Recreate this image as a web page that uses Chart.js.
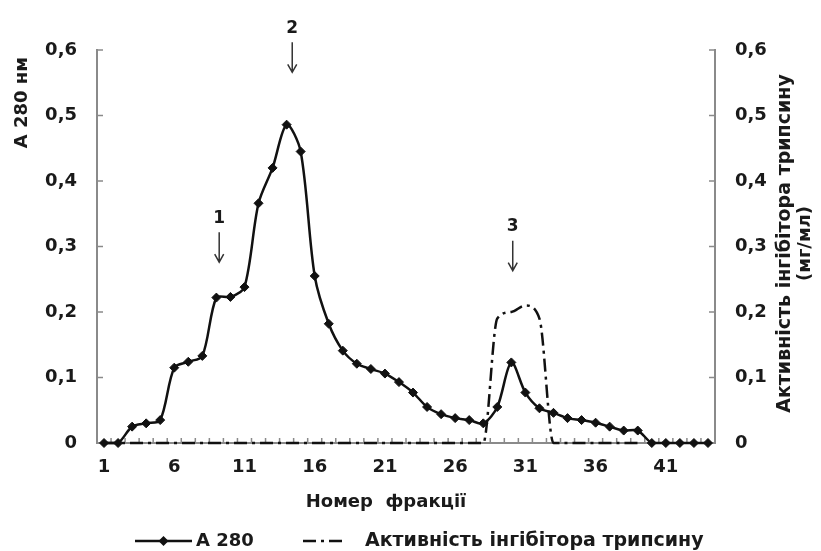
<!DOCTYPE html>
<html>
<head>
<meta charset="utf-8">
<script src="https://cdn.jsdelivr.net/npm/chart.js@4.4.1/dist/chart.umd.min.js"></script>
<style>
  html, body { margin: 0; padding: 0; background: #fff; }
</style>
</head>
<body>
<canvas id="chart" width="821" height="551"></canvas>
<script>
// fraction numbers on the x axis
const fractionLabels = ['1','2','3','4','5','6','7','8','9','10','11','12','13','14','15',
  '16','17','18','19','20','21','22','23','24','25','26','27','28','29','30',
  '31','32','33','34','35','36','37','38','39','40','41','42','43','44'];

// A 280 (left axis)
const a280 = [0, 0, 0.025, 0.030, 0.035, 0.115, 0.124, 0.133, 0.222, 0.223,
  0.238, 0.366, 0.420, 0.486, 0.445, 0.255, 0.182, 0.141, 0.121, 0.113,
  0.106, 0.093, 0.077, 0.055, 0.044, 0.038, 0.035, 0.030, 0.055, 0.123,
  0.077, 0.053, 0.046, 0.038, 0.035, 0.031, 0.025, 0.019, 0.019, 0,
  0, 0, 0, 0];

// trypsin inhibitor activity, mg/ml (right axis)
const inhibitor = [0, 0, 0, 0, 0, 0, 0, 0, 0, 0,
  0, 0, 0, 0, 0, 0, 0, 0, 0, 0,
  0, 0, 0, 0, 0, 0, 0, 0, 0.19, 0.20,
  0.21, 0.19, 0, 0, 0, 0, 0, 0, 0, null,
  null, null, null, null];

const yTickLabels = ['0', '0,1', '0,2', '0,3', '0,4', '0,5', '0,6'];

// numbered arrows over the peaks: fraction and value at the arrow tip
const markerLabels = ['1', '2', '3'];
const markerFraction = [9.2, 14.4, 30.1];
const markerTip = [0.276, 0.566, 0.263];

const seriesNames = ['А 280', 'Активність інгібітора трипсину'];
const xTitle = 'Номер  фракції';
const yTitle = 'А 280 нм';
const y1Title = ['Активність інгібітора трипсину', '(мг/мл)'];

const FONT = 'DejaVu Sans';
const INK = '#111';
const TEXT = '#1a1a1a';
const AXIS = '#8a8a8a';
const DASHDOT = [13, 5, 3, 5];

const tickFont = { family: FONT, size: 18, weight: 'bold' };

const extras = {
  id: 'extras',
  beforeDatasetsDraw(chart) {
    const { ctx, chartArea: a, scales: { x, y, y1 } } = chart;
    ctx.save();
    ctx.strokeStyle = AXIS;
    ctx.lineWidth = 1.5;
    ctx.beginPath();
    // Excel style tick marks pointing inside
    for (let i = 0; i <= fractionLabels.length; i++) {
      const px = x.getPixelForValue(i - 0.5);
      ctx.moveTo(px, a.bottom);
      ctx.lineTo(px, a.bottom - 5);
    }
    y.ticks.forEach(t => {
      const py = y.getPixelForValue(t.value);
      ctx.moveTo(a.left, py);
      ctx.lineTo(a.left + 6, py);
    });
    y1.ticks.forEach(t => {
      const py = y1.getPixelForValue(t.value);
      ctx.moveTo(a.right, py);
      ctx.lineTo(a.right - 6, py);
    });
    ctx.stroke();
    ctx.restore();
  },
  afterDraw(chart) {
    const { ctx, chartArea: a, scales: { x, y } } = chart;
    ctx.save();
    ctx.fillStyle = TEXT;
    ctx.textBaseline = 'middle';

    // arrows with peak numbers
    ctx.strokeStyle = '#333';
    ctx.lineWidth = 1.5;
    ctx.font = `bold 17px "${FONT}"`;
    ctx.textAlign = 'center';
    markerLabels.forEach((lbl, i) => {
      const px = x.getPixelForValue(markerFraction[i] - 1);
      const tip = y.getPixelForValue(markerTip[i]);
      ctx.beginPath();
      ctx.moveTo(px, tip - 30);
      ctx.lineTo(px, tip);
      ctx.moveTo(px - 4.5, tip - 8);
      ctx.lineTo(px, tip);
      ctx.lineTo(px + 4.5, tip - 8);
      ctx.stroke();
      ctx.fillText(lbl, px, tip - 44);
    });

    // axis titles
    ctx.font = `bold 18px "${FONT}"`;
    ctx.save();
    ctx.translate(a.left - 75, a.top + 7);
    ctx.rotate(-Math.PI / 2);
    ctx.textAlign = 'right';
    ctx.fillText(yTitle, 0, 0);
    ctx.restore();

    ctx.textAlign = 'center';
    ctx.fillText(xTitle, (a.left + a.right) / 2 - 20, a.bottom + 59);

    ctx.font = `bold 19px "${FONT}"`;
    ctx.save();
    const midY = (a.top + a.bottom) / 2 - 3;
    ctx.translate(a.right + 70, midY);
    ctx.rotate(-Math.PI / 2);
    ctx.textAlign = 'center';
    ctx.fillText(y1Title[0], 0, 0, 342);
    ctx.font = `bold 18px "${FONT}"`;
    ctx.fillText(y1Title[1], 0, 20);
    ctx.restore();

    // legend
    ctx.font = `bold 18px "${FONT}"`;
    const ly = a.bottom + 98;
    const l0 = a.left + 38;
    ctx.strokeStyle = INK;
    ctx.lineWidth = 2.5;
    ctx.beginPath();
    ctx.moveTo(l0, ly);
    ctx.lineTo(l0 + 57, ly);
    ctx.stroke();
    ctx.fillStyle = INK;
    ctx.beginPath();
    ctx.moveTo(l0 + 28.5, ly - 5);
    ctx.lineTo(l0 + 33.5, ly);
    ctx.lineTo(l0 + 28.5, ly + 5);
    ctx.lineTo(l0 + 23.5, ly);
    ctx.closePath();
    ctx.fill();
    ctx.fillStyle = TEXT;
    ctx.textAlign = 'left';
    ctx.fillText(seriesNames[0], l0 + 61, ly);

    const l1 = a.left + 206;
    ctx.setLineDash(DASHDOT);
    ctx.beginPath();
    ctx.moveTo(l1, ly);
    ctx.lineTo(l1 + 42, ly);
    ctx.stroke();
    ctx.setLineDash([]);
    ctx.font = `bold 19px "${FONT}"`;
    ctx.fillText(seriesNames[1], l1 + 62, ly, 341);
    ctx.restore();
  }
};

const yAxis = (position, width) => ({
  position,
  min: 0,
  max: 0.6,
  grid: { display: false, drawTicks: false },
  border: { display: true, color: AXIS, width: 2 },
  ticks: {
    stepSize: 0.1,
    padding: 20,
    color: TEXT,
    font: tickFont,
    callback: (v, i) => yTickLabels[i]
  },
  afterFit: s => { s.width = width; }
});

new Chart(document.getElementById('chart'), {
  type: 'line',
  data: {
    labels: fractionLabels,
    datasets: [
      {
        label: seriesNames[0],
        data: a280,
        yAxisID: 'y',
        borderColor: INK,
        backgroundColor: INK,
        borderWidth: 2.5,
        tension: 0.3,
        pointStyle: 'rectRot',
        pointRadius: 4.5,
        pointBorderWidth: 1,
        clip: 6
      },
      {
        label: seriesNames[1],
        data: inhibitor,
        yAxisID: 'y1',
        borderColor: INK,
        borderWidth: 2.5,
        borderDash: DASHDOT,
        pointRadius: 0,
        cubicInterpolationMode: 'monotone',
        clip: 4
      }
    ]
  },
  options: {
    responsive: false,
    devicePixelRatio: 1,
    animation: false,
    layout: { padding: { top: 50, bottom: 68, left: 0, right: 0 } },
    plugins: {
      legend: { display: false },
      tooltip: { enabled: false }
    },
    scales: {
      x: {
        offset: true,
        grid: { display: false, drawTicks: false },
        border: { display: true, color: AXIS, width: 2 },
        ticks: {
          autoSkip: false,
          maxRotation: 0,
          padding: 14,
          color: TEXT,
          font: tickFont,
          callback: (v, i) => (i % 5 === 0 ? fractionLabels[i] : '')
        },
        afterFit: s => { s.height = 40; }
      },
      y: yAxis('left', 97),
      y1: yAxis('right', 106)
    }
  },
  plugins: [extras]
});
</script>
</body>
</html>
